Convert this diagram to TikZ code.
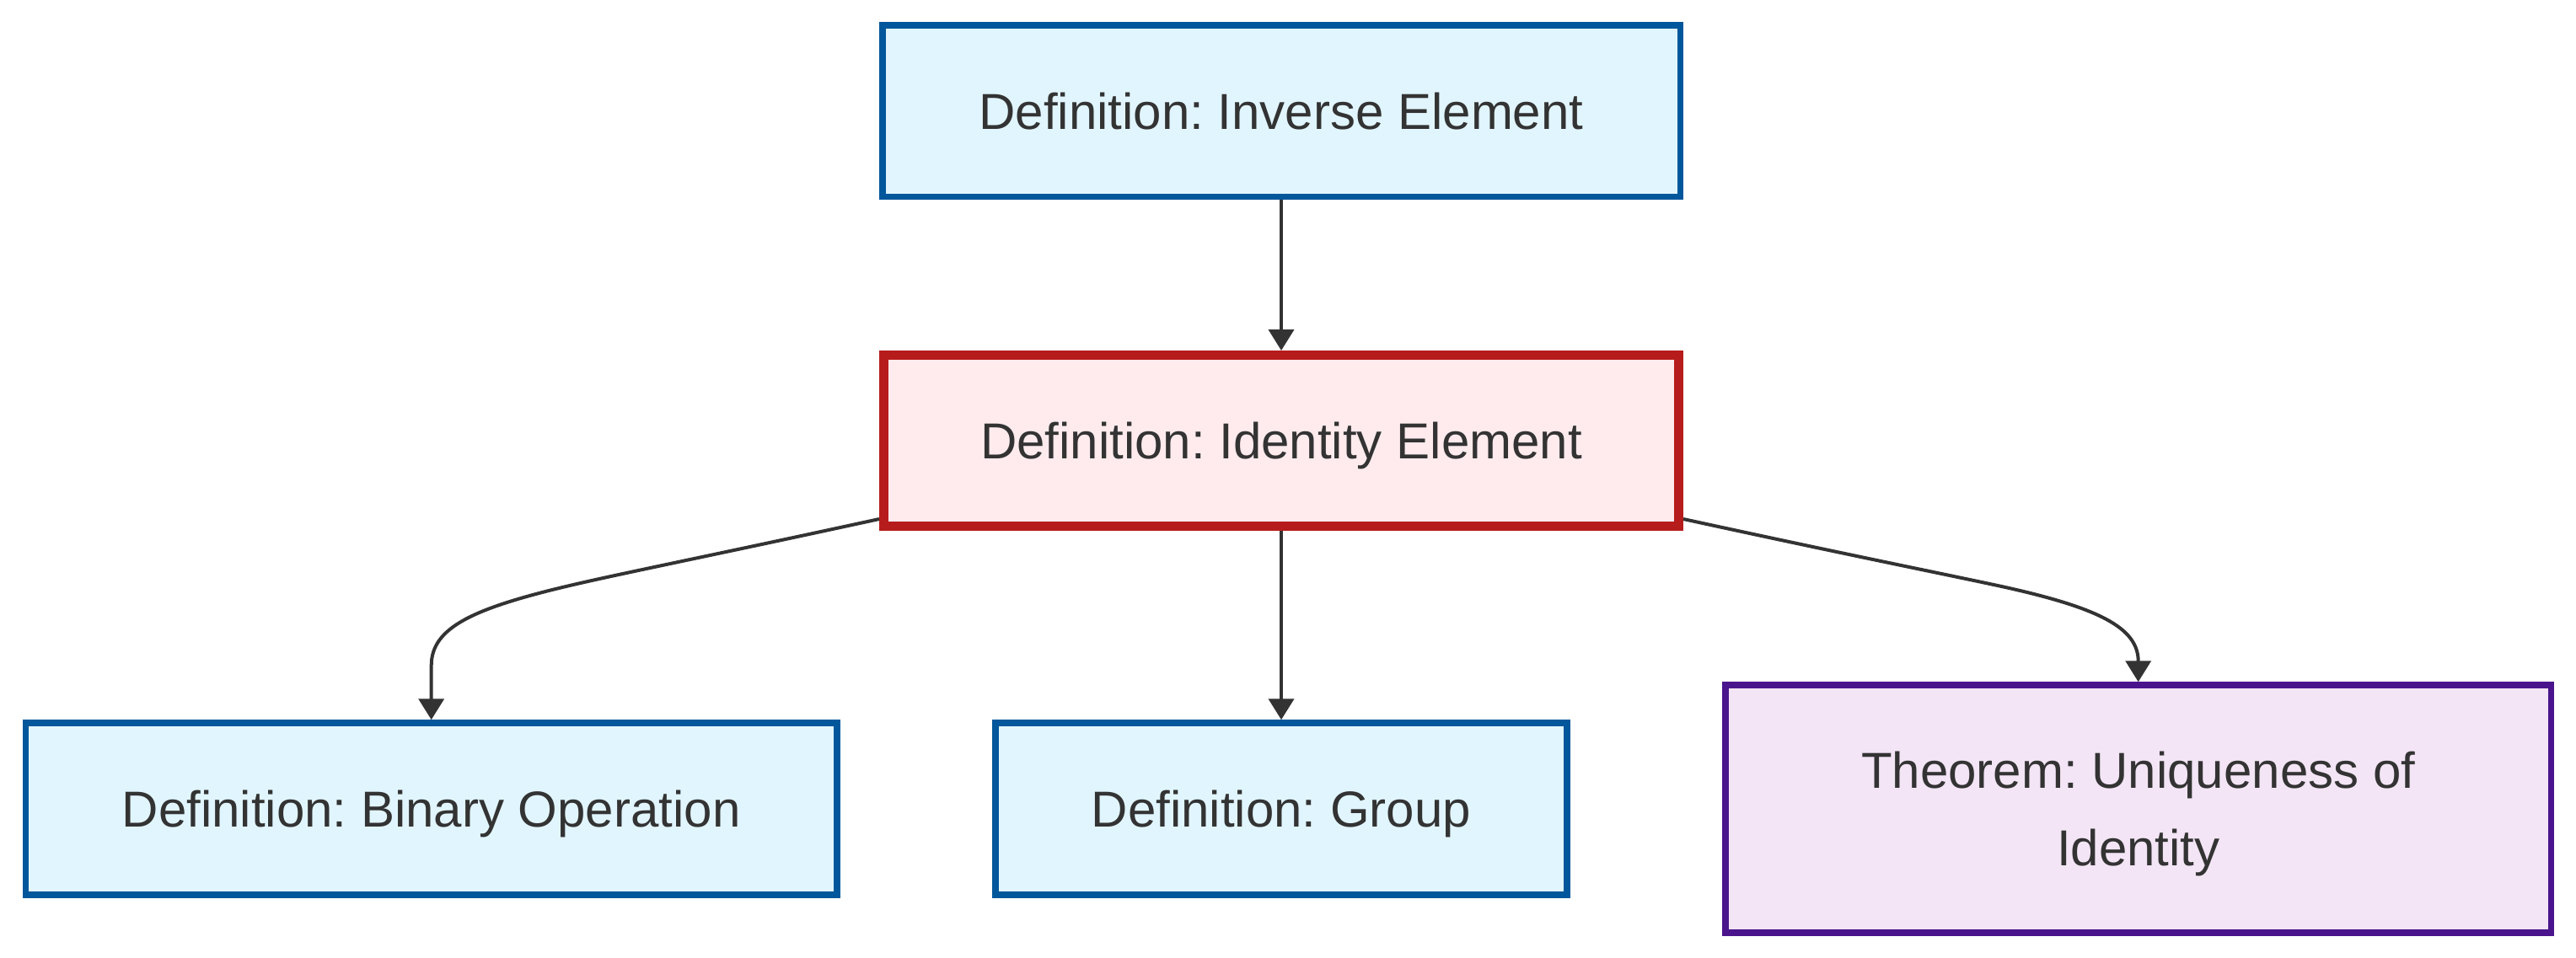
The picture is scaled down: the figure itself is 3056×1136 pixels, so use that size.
\documentclass[tikz,border=0pt]{standalone}
\usepackage{fontspec}
\setmainfont{Liberation Sans}
\usetikzlibrary{arrows.meta}
\definecolor{txt}{HTML}{333333}
\definecolor{bluefill}{HTML}{E1F5FE}
\definecolor{bluedraw}{HTML}{01579B}
\definecolor{redfill}{HTML}{FFEBEE}
\definecolor{reddraw}{HTML}{B71C1C}
\definecolor{purpfill}{HTML}{F3E5F5}
\definecolor{purpdraw}{HTML}{4A148C}
\tikzset{
  box/.style={rectangle, inner sep=0pt, align=center, text=txt, text depth=0pt,
    font=\fontsize{30}{46}\selectfont\frenchspacing},
  defbox/.style={box, fill=bluefill, draw=bluedraw, line width=3.75pt},
  keybox/.style={box, fill=redfill, draw=reddraw, line width=5.5pt},
  thmbox/.style={box, fill=purpfill, draw=purpdraw, line width=3.75pt},
  link/.style={draw=txt, line width=2pt, -{Triangle[length=12.5pt,width=15pt]}}
}
\begin{document}
\frenchspacing
\begin{tikzpicture}[x=0.5pt,y=-0.5pt]
\useasboundingbox (0,0) rectangle (3056,1136);
\node[defbox, minimum width=473.25pt, minimum height=101.75pt] (inv) at (1520,131.5) {Definition: Inverse Element};
\node[keybox, minimum width=471.5pt, minimum height=101.5pt] (ident) at (1520,523) {Definition: Identity Element};
\node[defbox, minimum width=481.25pt, minimum height=102pt] (bin) at (511.7,960) {Definition: Binary Operation};
\node[defbox, minimum width=339pt, minimum height=102pt] (grp) at (1520,960) {Definition: Group};
\node[thmbox, minimum width=489.6pt, minimum height=147pt] (thm) at (2536.7,960) {Theorem: Uniqueness of\\Identity};
\coordinate (sl) at ([yshift=7pt]ident.south west);
\coordinate (sr) at ([yshift=7pt]ident.south east);
\draw[link] (inv.south) -- (ident.north);
\draw[link] (ident.south) -- (grp.north);
\draw[link] (sl) .. controls (850,658) and (740,680) .. (680,694) .. controls (560,722) and (511.7,745) .. (511.7,790) -- (bin.north);
\draw[link] (sr) .. controls (2190,658) and (2300,680) .. (2370,695) .. controls (2490,721) and (2536.7,745) .. (2536.7,785) -- (thm.north);
\end{tikzpicture}
\end{document}
